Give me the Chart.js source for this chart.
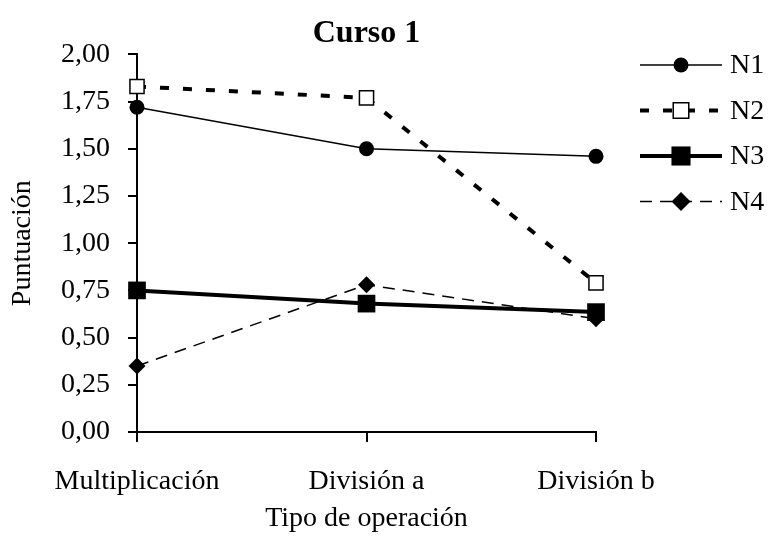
<!DOCTYPE html>
<html>
<head>
<meta charset="utf-8">
<script src="https://cdn.jsdelivr.net/npm/chart.js@4.4.1/dist/chart.umd.min.js"></script>
<style>
  html, body { margin: 0; padding: 0; background: #fff; }
</style>
</head>
<body>
<canvas id="myChart" width="769" height="551"></canvas>
<script>
const operaciones = ['Multiplicación', 'División a', 'División b'];
const niveles = ['N1', 'N2', 'N3', 'N4'];
const n1 = [1.72, 1.50, 1.46];
const n2 = [1.83, 1.77, 0.79];
const n3 = [0.75, 0.68, 0.635];
const n4 = [0.35, 0.78, 0.60];
const yTicks = [0, 0.25, 0.5, 0.75, 1, 1.25, 1.5, 1.75, 2];

const fuente = 'Liberation Serif';
Chart.defaults.color = '#000';
Chart.defaults.font.family = fuente;

// leyenda a la derecha: trazo de linea + marcador + texto
const leyendaLineas = {
  id: 'leyendaLineas',
  afterDraw(chart) {
    const ctx = chart.ctx;
    const x0 = chart.chartArea.right + 44;
    const x1 = x0 + 82;
    chart.data.datasets.forEach((ds, i) => {
      const y = 65 + i * 45.5;
      ctx.save();
      ctx.strokeStyle = '#000';
      ctx.lineWidth = ds.borderWidth;
      ctx.setLineDash(ds.borderDash || []);
      ctx.beginPath();
      ctx.moveTo(x0, y);
      ctx.lineTo(x1, y);
      ctx.stroke();
      ctx.setLineDash([]);
      const xm = (x0 + x1) / 2;
      const r = ds.pointRadius + 1;
      ctx.fillStyle = ds.pointBackgroundColor;
      ctx.lineWidth = ds.pointBorderWidth;
      ctx.beginPath();
      if (ds.pointStyle === 'circle') {
        ctx.arc(xm, y, r - 1, 0, Math.PI * 2);
      } else if (ds.pointStyle === 'rect') {
        const s = r * Math.SQRT1_2;
        ctx.rect(xm - s, y - s, 2 * s, 2 * s);
      } else {
        ctx.moveTo(xm - r, y);
        ctx.lineTo(xm, y - r);
        ctx.lineTo(xm + r, y);
        ctx.lineTo(xm, y + r);
        ctx.closePath();
      }
      ctx.fill();
      if (ds.pointBorderWidth > 0) ctx.stroke();
      ctx.fillStyle = '#000';
      ctx.font = '28px "' + fuente + '"';
      ctx.textBaseline = 'middle';
      ctx.fillText(ds.label, x1 + 8, y + 1);
      ctx.restore();
    });
  }
};

const ctx = document.getElementById('myChart');

new Chart(ctx, {
  type: 'line',
  data: {
    labels: operaciones,
    datasets: [{
      label: niveles[0],
      data: n1,
      borderColor: '#000',
      borderWidth: 1.5,
      pointStyle: 'circle',
      pointRadius: 7.5,
      pointBackgroundColor: '#000',
      pointBorderColor: '#000',
      pointBorderWidth: 0
    }, {
      label: niveles[1],
      data: n2,
      borderColor: '#000',
      borderWidth: 4,
      borderDash: [9, 14],
      pointStyle: 'rect',
      pointRadius: 10,
      pointBackgroundColor: '#fff',
      pointBorderColor: '#000',
      pointBorderWidth: 1.5
    }, {
      label: niveles[2],
      data: n3,
      borderColor: '#000',
      borderWidth: 4,
      pointStyle: 'rect',
      pointRadius: 12.5,
      pointBackgroundColor: '#000',
      pointBorderColor: '#000',
      pointBorderWidth: 0
    }, {
      label: niveles[3],
      data: n4,
      borderColor: '#000',
      borderWidth: 1.5,
      borderDash: [12, 8],
      pointStyle: 'rectRot',
      pointRadius: 8.5,
      pointBackgroundColor: '#000',
      pointBorderColor: '#000',
      pointBorderWidth: 0
    }]
  },
  options: {
    responsive: false,
    animation: false,
    clip: false,
    layout: {
      padding: { left: 6, right: 173, top: 0, bottom: 14 }
    },
    plugins: {
      legend: { display: false },
      tooltip: { enabled: false },
      title: {
        display: true,
        text: 'Curso 1',
        fullSize: false,
        color: '#000',
        font: { size: 32, weight: 'bold', family: fuente },
        padding: { top: 15, bottom: 1 }
      }
    },
    scales: {
      x: {
        offset: false,
        afterFit: scale => { scale.height = 105; },
        grid: {
          drawOnChartArea: false,
          drawTicks: true,
          tickLength: 10,
          color: '#000',
          lineWidth: 2
        },
        border: { display: true, color: '#000', width: 2 },
        ticks: {
          color: '#000',
          font: { size: 28, family: fuente },
          padding: 23,
          maxRotation: 0
        },
        title: {
          display: true,
          text: 'Tipo de operación',
          color: '#000',
          font: { size: 28, family: fuente },
          padding: { top: 3, bottom: 2 }
        }
      },
      y: {
        min: 0,
        max: 2,
        afterFit: scale => { scale.width = 131; },
        afterBuildTicks: axis => {
          axis.ticks = yTicks.map(v => ({ value: v }));
        },
        grid: {
          drawOnChartArea: false,
          drawTicks: true,
          tickLength: 9,
          color: '#000',
          lineWidth: 2
        },
        border: { display: true, color: '#000', width: 2 },
        ticks: {
          color: '#000',
          font: { size: 28, family: fuente },
          padding: 18,
          callback: v => v.toFixed(2).replace('.', ',')
        },
        title: {
          display: true,
          text: 'Puntuación',
          color: '#000',
          font: { size: 28, family: fuente },
          padding: { top: 0, bottom: 3 }
        }
      }
    }
  },
  plugins: [leyendaLineas]
});
</script>
</body>
</html>
